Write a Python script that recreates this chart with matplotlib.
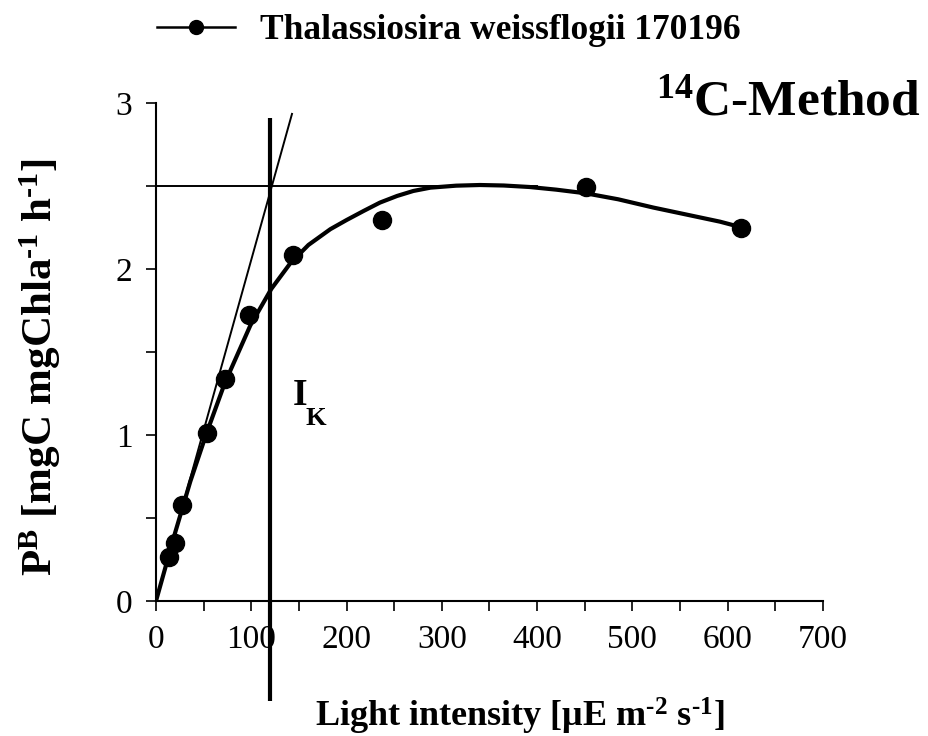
import matplotlib
matplotlib.use("Agg")
import matplotlib.pyplot as plt
from matplotlib.ticker import MultipleLocator

plt.rcParams['font.family'] = ['Liberation Serif', 'DejaVu Serif']
plt.rcParams['mathtext.fontset'] = 'custom'
plt.rcParams['mathtext.rm'] = 'Liberation Serif:bold'
plt.rcParams['mathtext.bf'] = 'Liberation Serif:bold'
plt.rcParams['mathtext.it'] = 'Liberation Serif:italic'
plt.rcParams['mathtext.default'] = 'bf'

# measured data
light = [14, 20, 27.6, 53.8, 72.1, 97.3, 143.4, 236.8, 451.2, 614]
pb = [0.267, 0.348, 0.578, 1.014, 1.336, 1.723, 2.084, 2.295, 2.496, 2.245]

# fitted curve
curve_i = [0, 20, 36, 53, 72, 99, 121, 141, 160, 183, 200, 218, 235, 253, 270,
           288, 315, 340, 365, 392, 420, 451, 485, 522, 555, 592, 615]
curve_p = [0, 0.41, 0.72, 1.01, 1.31, 1.66, 1.88, 2.035, 2.145, 2.24, 2.295, 2.35,
           2.40, 2.44, 2.47, 2.49, 2.502, 2.506, 2.503, 2.494, 2.478, 2.456,
           2.42, 2.37, 2.33, 2.285, 2.25]

# initial slope (alpha) line, Pmax line and Ik
alpha_i = [0, 143]
alpha_p = [0, 2.94]
pmax = 2.5
pmax_i = [0, 400]
ik = 120
ik_p = [-0.6, 2.91]

fig = plt.figure(figsize=(9.29, 7.36), dpi=100)
ax = fig.add_axes([156/929, 1-601/736, (823-156)/929, (601-103)/736])

ax.plot(alpha_i, alpha_p, color='black', lw=1.4, solid_capstyle='butt')
ax.plot(pmax_i, [pmax, pmax], color='black', lw=1.4)
ax.plot([ik, ik], ik_p, color='black', lw=3.0, clip_on=False, solid_capstyle='butt')
ax.plot(curve_i, curve_p, color='black', lw=3.0)
ax.plot(light, pb, 'o', color='black', ms=13, ls='none')

# legend handle
ax.plot([], [], '-o', color='black', ms=10, lw=1.8,
        label='Thalassiosira weissflogii 170196')
leg = ax.legend(loc='upper left', bbox_to_anchor=(157/929, 1-14/736),
                bbox_transform=fig.transFigure, frameon=False,
                prop={'family': 'Liberation Serif', 'weight': 'bold', 'size': 25.5},
                handlelength=2.2, handletextpad=0.72, borderaxespad=0, borderpad=0)

ax.text(ik + 23, 1.18, 'I', fontsize=27, fontweight='bold', ha='left', va='baseline')
ax.text(ik + 37, 1.06, 'K', fontsize=19, fontweight='bold', ha='left', va='baseline')

fig.text(920/929, 1-103/736, r'${}^{14}$C-Method', fontsize=37, fontweight='bold',
         ha='right', va='center')

ax.set_xlim(0, 700)
ax.set_ylim(0, 3)
ax.xaxis.set_major_locator(MultipleLocator(100))
ax.xaxis.set_minor_locator(MultipleLocator(50))
ax.yaxis.set_major_locator(MultipleLocator(1))
ax.yaxis.set_minor_locator(MultipleLocator(0.5))
ax.tick_params(which='both', direction='out', width=1.2, labelsize=24, pad=10)
ax.tick_params(which='major', length=7)
ax.tick_params(which='minor', length=7)
ax.spines['top'].set_visible(False)
ax.spines['right'].set_visible(False)
ax.spines['left'].set_linewidth(1.5)
ax.spines['bottom'].set_linewidth(1.5)

ax.set_xlabel(r'Light intensity [μE m$^{\text{-}2}$ s$^{\text{-}1}$]', fontsize=26,
              fontweight='bold')
ax.xaxis.set_label_coords(0.546, -0.19)
ax.set_ylabel(r'P$^{B}$ [mgC mgChla$^{\text{-}1}$ h$^{\text{-}1}$]', fontsize=31,
              fontweight='bold')
ax.yaxis.set_label_coords(-0.139, 0.47)

fig.savefig('out.png', dpi=100)
